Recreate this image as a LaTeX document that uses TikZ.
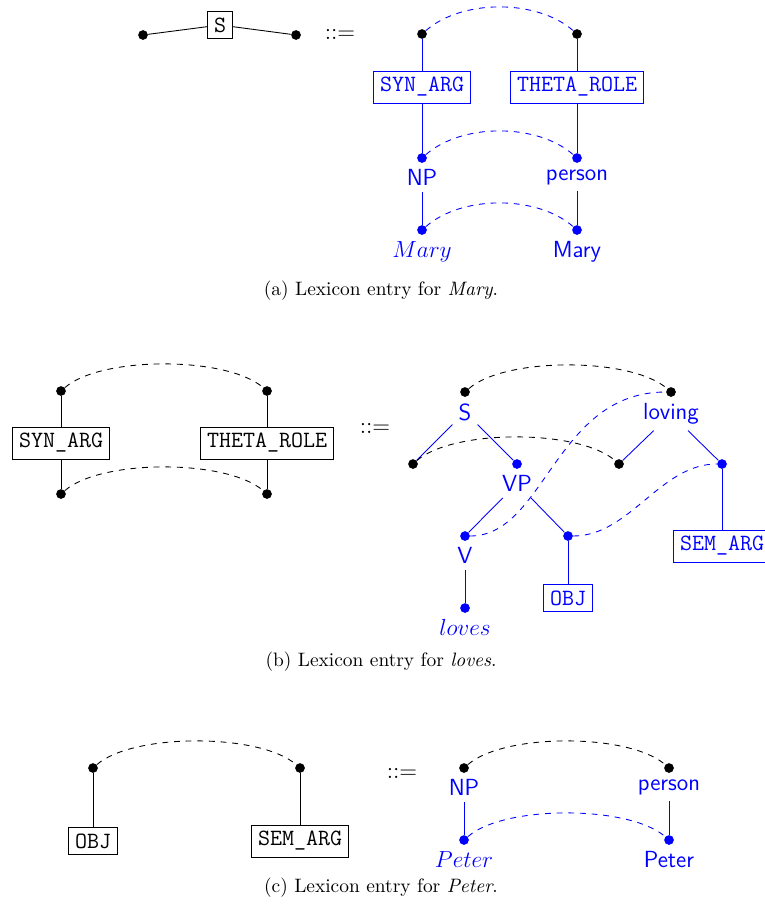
\documentclass[tikz,border=0pt]{standalone}
\usetikzlibrary{positioning}
\begin{document}
\begin{tikzpicture}[x=0.515pt,y=-0.515pt,
  bdot/.style={circle,fill=black,inner sep=0pt,minimum size=5pt},
  udot/.style={circle,fill=blue,inner sep=0pt,minimum size=5pt},
  kbox/.style={draw=black,font=\fontsize{12}{14}\selectfont\ttfamily,inner sep=3.3pt},
  ubox/.style={kbox,draw=blue,text=blue},
  lab/.style={font=\fontsize{12}{14}\selectfont\sffamily,text=blue,inner sep=3pt},
  mlab/.style={font=\fontsize{12}{14}\selectfont,text=blue,inner sep=3pt},
  eqsign/.style={font=\fontsize{12}{14}\selectfont},
  capt/.style={font=\fontsize{10}{12}\selectfont},
  kedge/.style={draw=black,line width=0.45pt},
  uedge/.style={draw=blue,line width=0.45pt},
  karc/.style={draw=black,dashed,line width=0.45pt},
  uarc/.style={draw=blue,dashed,line width=0.45pt},
]
\useasboundingbox (0,0) rectangle (765,904);

% ---------------- (a) ----------------
\node[bdot] (a1) at (143,35) {};
\node[kbox] (aS) at (220,25) {S};
\node[bdot] (a2) at (296,35) {};
\draw[kedge] (a1) -- (aS);
\draw[kedge] (aS) -- (a2);
\node[eqsign] (aeq) at (340,34) {::=};

\node[bdot] (ar1) at (422,34) {};
\node[bdot] (ar2) at (577,34) {};
\draw[uarc] (ar1) .. controls +(40,-35) and +(-40,-35) .. (ar2);
\node[ubox] (asyn) at (422,87) {SYN\_ARG};
\node[ubox] (ath) at (577,87) {THETA\_ROLE};
\node[udot] (anp) at (422,158) {};
\node[udot] (aper) at (577,158) {};
\node[lab,below=0pt of anp] (anpl) {NP};
\node[lab,below=0pt of aper] (aperl) {person};
\node[udot] (am1) at (422,230) {};
\node[udot] (am2) at (577,230) {};
\node[mlab,below=0pt of am1] (am1l) {$Mary$};
\node[lab,below=0pt of am2] (am2l) {Mary};
\draw[uedge] (ar1) -- (asyn);
\draw[uedge] (asyn) -- (anp);
\draw[uedge] (ar2) -- (ath);
\draw[uedge] (ath) -- (aper);
\draw[uedge] (anpl) -- (am1);
\draw[uedge] (aperl) -- (am2);
\draw[uarc] (anp) .. controls +(40,-35) and +(-40,-35) .. (aper);
\draw[uarc] (am1) .. controls +(40,-35) and +(-40,-35) .. (am2);
\node[capt] (capa) at (381,291) {(a) Lexicon entry for \textit{Mary}.};

% ---------------- (b) ----------------
\node[bdot] (bl1) at (61,391) {};
\node[bdot] (bl2) at (267,391) {};
\node[kbox] (blsyn) at (61,443) {SYN\_ARG};
\node[kbox] (blth) at (267,443) {THETA\_ROLE};
\node[bdot] (bl3) at (61,494) {};
\node[bdot] (bl4) at (267,494) {};
\draw[kedge] (bl1) -- (blsyn);
\draw[kedge] (blsyn) -- (bl3);
\draw[kedge] (bl2) -- (blth);
\draw[kedge] (blth) -- (bl4);
\draw[karc] (bl1) .. controls +(40,-35) and +(-40,-35) .. (bl2);
\draw[karc] (bl3) .. controls +(40,-35) and +(-40,-35) .. (bl4);
\node[eqsign] (beq) at (375,428) {::=};

\node[bdot] (bS) at (465,392) {};
\node[bdot] (blov) at (671,392) {};
\node[lab,below=0pt of bS] (bSl) {S};
\node[lab,below=0pt of blov] (blovl) {loving};
\draw[karc] (bS) .. controls +(40,-35) and +(-40,-35) .. (blov);
\node[bdot] (bk1) at (413,464) {};
\node[udot] (bvp) at (517,464) {};
\node[bdot] (bk2) at (619,464) {};
\node[udot] (bsem) at (722,464) {};
\draw[uedge] (bSl) -- (bk1);
\draw[uedge] (bSl) -- (bvp);
\draw[uedge] (blovl) -- (bk2);
\draw[uedge] (blovl) -- (bsem);
\draw[karc] (bk1) .. controls +(40,-35) and +(-40,-35) .. (bk2);
\node[lab,below=0pt of bvp] (bvpl) {VP};
\node[udot] (bv) at (465,536) {};
\node[udot] (bobj) at (568,536) {};
\draw[uedge] (bvpl) -- (bv);
\draw[uedge] (bvpl) -- (bobj);
\node[lab,below=0pt of bv] (bvl) {V};
\node[udot] (blvs) at (465,608) {};
\draw[uedge] (bvl) -- (blvs);
\node[mlab,below=0pt of blvs] (blvsl) {$loves$};
\node[ubox] (bobjbox) at (568,598) {OBJ};
\draw[uedge] (bobj) -- (bobjbox);
\node[ubox] (bsembox) at (722,546) {SEM\_ARG};
\draw[uedge] (bsem) -- (bsembox);
\draw[uarc] (bv) .. controls (545,536) and (555,392) .. (blov);
\draw[uarc] (bobj) .. controls (630,536) and (660,464) .. (bsem);
\node[capt] (capb) at (381,662) {(b) Lexicon entry for \textit{loves}.};

% ---------------- (c) ----------------
\node[bdot] (c1) at (93,768) {};
\node[bdot] (c2) at (300,768) {};
\draw[karc] (c1) .. controls +(40,-35) and +(-40,-35) .. (c2);
\node[kbox] (cobj) at (93,841) {OBJ};
\node[kbox] (csem) at (300,841) {SEM\_ARG};
\draw[kedge] (c1) -- (cobj);
\draw[kedge] (c2) -- (csem);
\node[eqsign] (ceq) at (402,773) {::=};

\node[bdot] (cr1) at (464,768) {};
\node[bdot] (cr2) at (669,768) {};
\draw[karc] (cr1) .. controls +(40,-35) and +(-40,-35) .. (cr2);
\node[lab,below=0pt of cr1] (cnpl) {NP};
\node[lab,below=0pt of cr2] (cperl) {person};
\node[udot] (cp1) at (464,840) {};
\node[udot] (cp2) at (669,840) {};
\draw[uedge] (cnpl) -- (cp1);
\draw[uedge] (cperl) -- (cp2);
\draw[uarc] (cp1) .. controls +(40,-35) and +(-40,-35) .. (cp2);
\node[mlab,below=0pt of cp1] (cp1l) {$Peter$};
\node[lab,below=0pt of cp2] (cp2l) {Peter};
\node[capt] (capc) at (381,888) {(c) Lexicon entry for \textit{Peter}.};
\end{tikzpicture}
\end{document}
